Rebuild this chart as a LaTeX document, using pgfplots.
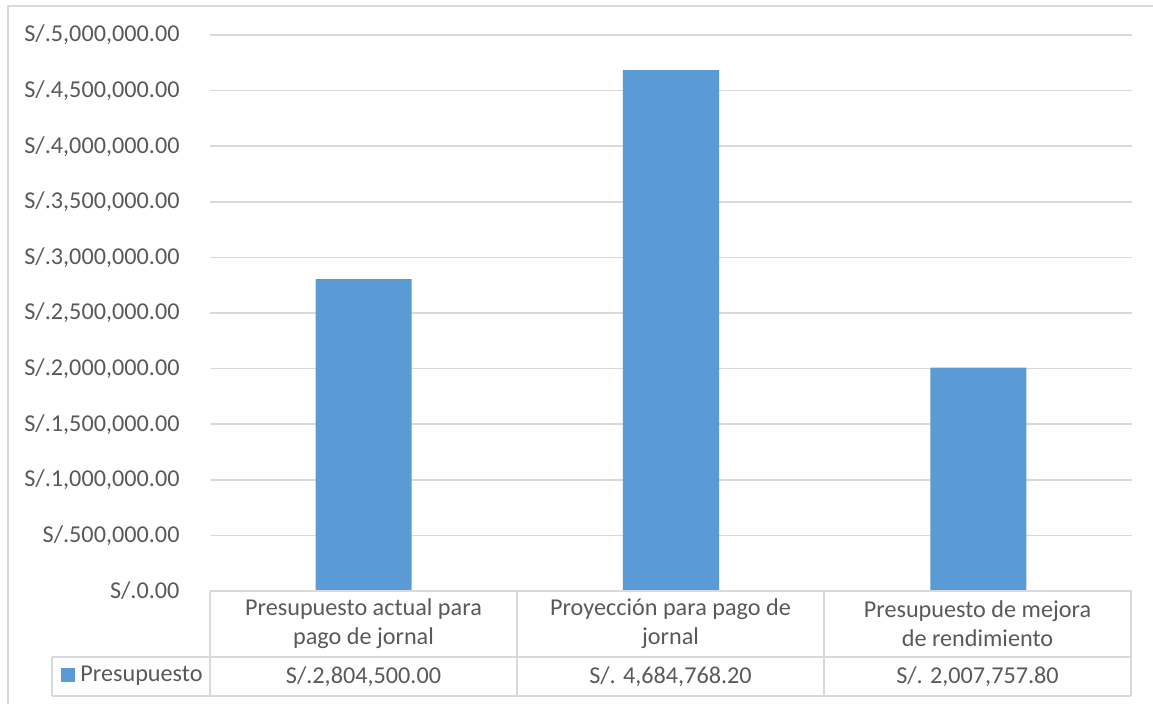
\documentclass[border=0pt]{standalone}
\usepackage{pgfplots}
\pgfplotsset{compat=1.18}
\usepackage{fontspec}
\setmainfont{Carlito}
\definecolor{barblue}{HTML}{5B9BD5}
\definecolor{txtgray}{HTML}{595959}
\definecolor{gridgray}{HTML}{D9D9D9}
\begin{document}
\fontsize{12.1}{14.5}\selectfont
\begin{tikzpicture}
\begin{axis}[
  at={(0pt,0pt)}, anchor=south west,
  scale only axis,
  width=461pt, height=278pt,
  xmin=-0.5, xmax=2.5,
  ymin=0, ymax=5000000,
  scaled y ticks=false,
  axis line style={draw=none},
  xtick=\empty,
  ytick={0,500000,1000000,1500000,2000000,2500000,3000000,3500000,4000000,4500000,5000000},
  yticklabels={S/.0.00,S/.500{,}000.00,S/.1{,}000{,}000.00,S/.1{,}500{,}000.00,S/.2{,}000{,}000.00,S/.2{,}500{,}000.00,S/.3{,}000{,}000.00,S/.3{,}500{,}000.00,S/.4{,}000{,}000.00,S/.4{,}500{,}000.00,S/.5{,}000{,}000.00},
  yticklabel style={font=\fontsize{12.1}{14}\selectfont, text=txtgray, xshift=-11pt},
  major tick length=0pt,
  ymajorgrids,
  grid style={gridgray, line width=0.75pt},
  ybar, bar width=0.3124,
  clip=false,
]
\addplot[fill=barblue, draw=none] coordinates {(0,2804500) (1,4684768.2) (2,2007757.8)};
\end{axis}
\begin{scope}[x=1pt, y=1pt]
\useasboundingbox (-105,-56.5) rectangle (471.5,295.5);
% outer chart border
\draw[gridgray, line width=0.75pt] (-101,-56.5) -- (-101,292.5) -- (471.5,292.5);
% data table
\begin{scope}[gridgray, line width=0.75pt]
\draw (0,0) -- (460.5,0);
\draw (-79,-33) -- (460.5,-33);
\draw (-79,-52.5) -- (460.5,-52.5);
\draw (0,0) -- (0,-52.5);
\draw (153.5,0) -- (153.5,-52.5);
\draw (307,0) -- (307,-52.5);
\draw (460.5,0) -- (460.5,-52.5);
\draw (-79,-33) -- (-79,-52.5);
\end{scope}
\begin{scope}[every node/.style={text=txtgray, font=\fontsize{12.1}{14.5}\selectfont, align=center, inner sep=0pt}]
\node at (76.75,-16.5) {Presupuesto actual para\\pago de jornal};
\node at (230.25,-16.5) {Proyección para pago de\\jornal};
\node at (383.75,-16.5) {Presupuesto de mejora\\de rendimiento};
\node at (76.75,-42.75) {S/.2,804,500.00};
\node at (230.25,-42.75) {S/. 4,684,768.20};
\node at (383.75,-42.75) {S/. 2,007,757.80};
\fill[barblue] (-74.5,-38.5) rectangle (-67.5,-45.5);
\node[anchor=west] at (-65,-42.3) {Presupuesto};
\end{scope}
\end{scope}
\end{tikzpicture}
\end{document}
